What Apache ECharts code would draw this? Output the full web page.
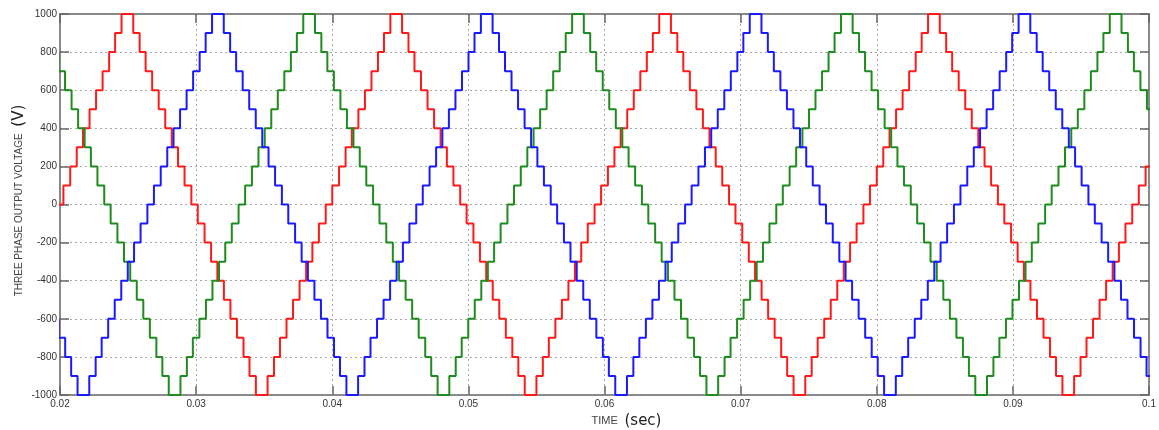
<!DOCTYPE html>
<html>
<head>
<meta charset="utf-8">
<script src="https://cdn.jsdelivr.net/npm/echarts@6/dist/echarts.min.js"></script>
<style>
  html, body { margin: 0; padding: 0; background: #fff; }
  #chart { width: 1159px; height: 430px; }
</style>
</head>
<body>
<div id="chart"></div>
<script>
// staircase levels on one flank, from the crest down to zero (V)
const stepLevels = [1000, 900, 800, 700, 600, 500, 400, 300, 200, 100, 0];
// ms after the crest at which each of the first ten levels ends
const stepEnds = [0.43, 0.9, 1.34, 1.82, 2.3, 2.78, 3.26, 3.72, 4.2, 4.7];

// crest times (ms)
const redPeaks = [24.95, 44.7, 64.45, 84.2, 103.95];
const redTroughs = [15.07, 34.82, 54.57, 74.32, 94.07];
const bluePeaks = [11.85, 31.6, 51.35, 71.1, 90.85];
const blueTroughs = [21.72, 41.47, 61.22, 80.97, 100.72];
const greenPeaks = [18.55, 38.3, 58.05, 77.8, 97.55];
const greenTroughs = [8.67, 28.42, 48.17, 67.92, 87.67];

// axes
const xMin = 0.02, xMax = 0.1, xStep = 0.01;
const yMin = -1000, yMax = 1000, yStep = 200;

// put the flank steps around every crest, time in seconds
function staircase(peaks, troughs) {
  const crests = peaks.map(t => [t, 1]).concat(troughs.map(t => [t, -1]));
  crests.sort((a, b) => a[0] - b[0]);
  const pts = [];
  crests.forEach(([c, s]) => {
    for (let k = stepEnds.length - 1; k >= 0; k--) {
      pts.push([(c - stepEnds[k]) / 1000, s * stepLevels[k]]);
    }
    for (let k = 0; k < stepEnds.length; k++) {
      pts.push([(c + stepEnds[k]) / 1000, s * stepLevels[k + 1]]);
    }
  });
  return pts;
}

const frame = { show: true, onZero: false, lineStyle: { color: '#8a8a8a', width: 2 } };
const tick = { show: true, inside: true, length: 9, lineStyle: { color: '#666', width: 1.5 } };
const grid = { type: [2, 3], color: '#a8a8a8', width: 1 };
const tickFont = { color: '#333', fontSize: 10, fontFamily: 'Liberation Sans' };

function phase(name, color, data) {
  return {
    name, type: 'line', step: 'end', data,
    showSymbol: false, symbol: 'none',
    lineStyle: { color, width: 2 },
    itemStyle: { color },
    xAxisIndex: 0, yAxisIndex: 0
  };
}

const chart = echarts.init(document.getElementById('chart'));
chart.setOption({
  animation: false,
  backgroundColor: '#fff',
  grid: { left: 60, right: 10, top: 14, bottom: 35, outerBoundsMode: 'none' },
  xAxis: [
    {
      type: 'value', min: xMin, max: xMax, interval: xStep,
      axisLine: frame, axisTick: tick,
      axisLabel: { ...tickFont, margin: 4, formatter: v => String(+v.toFixed(2)) },
      splitLine: { show: true, lineStyle: grid },
      name: '{t|TIME}  {s|(sec)}',
      nameLocation: 'middle', nameGap: 16,
      nameTextStyle: {
        padding: [0, 0, 0, 44],
        rich: {
          t: { fontSize: 11, color: '#444', fontFamily: 'Liberation Sans' },
          s: { fontSize: 15, color: '#222', fontFamily: 'DejaVu Sans' }
        }
      }
    },
    {
      type: 'value', position: 'top', min: xMin, max: xMax, interval: xStep,
      axisLine: frame, axisTick: tick, axisLabel: { show: false }, splitLine: { show: false }
    }
  ],
  yAxis: [
    {
      type: 'value', min: yMin, max: yMax, interval: yStep,
      axisLine: frame, axisTick: tick,
      axisLabel: { ...tickFont, margin: 3, formatter: v => String(v) },
      splitLine: { show: true, lineStyle: grid },
      name: '{t|THREE PHASE OUTPUT VOLTAGE}  {v|(V)}',
      nameLocation: 'middle', nameRotate: 90, nameGap: 33,
      nameMoveOverlap: false,
      nameTextStyle: {
        padding: [0, 0, 0, 8],
        rich: {
          t: { fontSize: 10, color: '#444', fontFamily: 'Liberation Sans' },
          v: { fontSize: 15, color: '#222', fontFamily: 'DejaVu Sans' }
        }
      }
    },
    {
      type: 'value', position: 'right', min: yMin, max: yMax, interval: yStep,
      axisLine: frame, axisTick: tick, axisLabel: { show: false }, splitLine: { show: false }
    }
  ],
  series: [
    phase('Phase A', '#ff1a1a', staircase(redPeaks, redTroughs)),
    phase('Phase C', '#1f8c1f', staircase(greenPeaks, greenTroughs)),
    phase('Phase B', '#1a1aff', staircase(bluePeaks, blueTroughs))
  ]
});
</script>
</body>
</html>
